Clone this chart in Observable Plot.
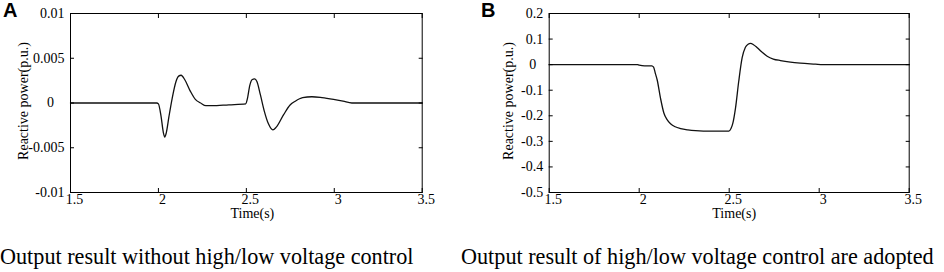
<!DOCTYPE html>
<html>
<head>
<meta charset="utf-8">
<script src="https://cdn.jsdelivr.net/npm/d3@7"></script>
<script src="https://cdn.jsdelivr.net/npm/@observablehq/plot@0.6"></script>
<style>
  html, body { margin: 0; padding: 0; background: #fff; }
  #wrap { position: relative; width: 944px; height: 272px; overflow: hidden; background: #fff; }
  .panel { position: absolute; top: 0; }
  .letter { position: absolute; top: 0; font-family: "Liberation Sans", Arial, sans-serif; font-weight: bold; font-size: 20px; line-height: 20px; color: #000; }
  .caption { position: absolute; top: 245.6px; font-family: "Liberation Serif", "Times New Roman", serif; font-size: 22.2px; line-height: 22px; color: #000; white-space: nowrap; }
</style>
</head>
<body>
<div id="wrap">
  <div class="panel" id="pa" style="left:0px"></div>
  <div class="panel" id="pb" style="left:472px"></div>
  <div class="letter" style="left:3px">A</div>
  <div class="letter" style="left:481px">B</div>
  <div class="caption" style="left:0px">Output result without high/low voltage control</div>
  <div class="caption" style="left:461px">Output result of high/low voltage control are adopted</div>
</div>
<script>
// ---- Data ----
const xTicks = [1.5, 2, 2.5, 3, 3.5];

// Panel A: without high/low voltage control
const timeA = [1.5, 1.99, 2.0, 2.015, 2.028, 2.036, 2.045, 2.06, 2.078, 2.1, 2.115, 2.129, 2.15, 2.182, 2.21, 2.24, 2.27, 2.305, 2.4, 2.497, 2.505, 2.52, 2.532, 2.547, 2.56, 2.58, 2.602, 2.625, 2.651, 2.67, 2.712, 2.75, 2.778, 2.82, 2.873, 2.93, 2.996, 3.05, 3.1, 3.5];
const qA = [0, 0, -0.0001, -0.0015, -0.0033, -0.0038, -0.0033, -0.0015, 0.0005, 0.0024, 0.003, 0.0031, 0.0026, 0.0013, 0.0004, 0.0, -0.0003, -0.0003, -0.0002, -0.0001, 0.0004, 0.002, 0.0026, 0.0027, 0.0024, 0.0009, -0.0009, -0.0023, -0.003, -0.0027, -0.0013, -0.0002, 0.0002, 0.0006, 0.0007, 0.0006, 0.0004, 0.0002, 0, 0];
const yTicksA = [0.01, 0.005, 0, -0.005, -0.01];

// Panel B: high/low voltage control adopted
const timeB = [1.5, 1.99, 2.0, 2.03, 2.07, 2.08, 2.09, 2.1, 2.118, 2.137, 2.155, 2.174, 2.2, 2.23, 2.27, 2.313, 2.4, 2.498, 2.51, 2.52, 2.535, 2.553, 2.572, 2.59, 2.605, 2.618, 2.635, 2.656, 2.68, 2.711, 2.745, 2.785, 2.84, 2.896, 2.979, 3.02, 3.5];
const qB = [0, 0, -0.002, -0.005, -0.005, -0.01, -0.035, -0.06, -0.13, -0.189, -0.215, -0.231, -0.243, -0.25, -0.255, -0.258, -0.26, -0.26, -0.25, -0.23, -0.17, -0.065, 0.027, 0.068, 0.08, 0.083, 0.078, 0.066, 0.05, 0.033, 0.022, 0.016, 0.01, 0.006, 0.002, 0, 0];
const yTicksB = [0.2, 0.1, 0, -0.1, -0.2, -0.3, -0.4, -0.5];

const yLabel = "Reactive power(p.u.)";
const xLabel = "Time(s)";

const SERIF = '"Liberation Serif", "Times New Roman", serif';

function panel({time, q, yDomain, yTicks, marginLeft, marginRight, zeroPad, yLabelDx, xLabelDx}) {
  const data = time.map((t, i) => ({t, q: q[i]}));
  const fmtY = d => d === 0 ? "0" + zeroPad : String(d);
  const txt = {fontFamily: SERIF, fontSize: 14, fill: "#000"};
  return Plot.plot({
    width: 472,
    height: 230,
    marginLeft,
    marginRight,
    marginTop: 13,
    marginBottom: 38,
    style: {fontFamily: SERIF, fontSize: "14px", background: "transparent", color: "#000"},
    x: {domain: [1.5, 3.5], label: null},
    y: {domain: yDomain, label: null},
    marks: [
      Plot.lineY(data, {x: "t", y: "q", curve: "monotone-x", stroke: "#111", strokeWidth: 1.3}),
      Plot.frame({stroke: "#000", strokeWidth: 1}),
      // inward ticks on all four sides
      Plot.axisX({anchor: "bottom", ticks: xTicks, tickSize: -4, tickFormat: () => "", label: null}),
      Plot.axisX({anchor: "top", ticks: xTicks, tickSize: -4, tickFormat: () => "", label: null}),
      Plot.axisY({anchor: "left", ticks: yTicks, tickSize: -4, tickFormat: () => "", label: null}),
      Plot.axisY({anchor: "right", ticks: yTicks, tickSize: -4, tickFormat: () => "", label: null}),
      // tick labels
      Plot.axisX({anchor: "bottom", ticks: xTicks, tickSize: 0, tickPadding: 2, dx: 4, tickFormat: d => String(d), label: null, ...txt}),
      Plot.axisY({anchor: "left", ticks: yTicks, tickSize: 0, tickPadding: 6, tickFormat: fmtY, label: null, ...txt}),
      // axis titles
      Plot.text([yLabel], {frameAnchor: "left", textAnchor: "middle", lineAnchor: "middle", dx: yLabelDx, dy: -2, rotate: -90, ...txt}),
      Plot.text([xLabel], {frameAnchor: "bottom", textAnchor: "middle", lineAnchor: "middle", dx: xLabelDx, dy: 21, ...txt})
    ]
  });
}

document.getElementById("pa").appendChild(panel({
  time: timeA, q: qA, yDomain: [-0.01, 0.01], yTicks: yTicksA,
  marginLeft: 70, marginRight: 50.3, zeroPad: "\u2007\u2008", yLabelDx: -47, xLabelDx: 6
}));
document.getElementById("pb").appendChild(panel({
  time: timeB, q: qB, yDomain: [-0.5, 0.2], yTicks: yTicksB,
  marginLeft: 76.7, marginRight: 35.3, zeroPad: "\u2007", yLabelDx: -41, xLabelDx: 5
}));
</script>
</body>
</html>
